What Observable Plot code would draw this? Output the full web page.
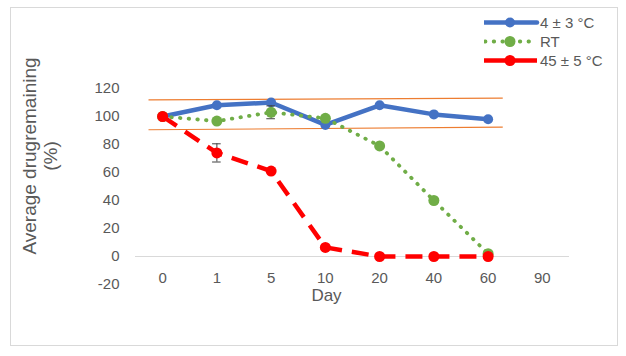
<!DOCTYPE html>
<html><head><meta charset="utf-8">
<script src="https://cdn.jsdelivr.net/npm/d3@7"></script>
<script src="https://cdn.jsdelivr.net/npm/@observablehq/plot@0.6"></script>
<style>
body{margin:0;background:#fff;font-family:"Liberation Sans",Arial,sans-serif;}
#wrap{position:relative;width:626px;height:356px;overflow:hidden;}
#border{position:absolute;left:10px;top:7px;width:608px;height:339px;border:1px solid #D9D9D9;box-sizing:border-box;}
#chart{position:absolute;left:0;top:0;}
#legend{position:absolute;left:484px;top:13px;font-size:15px;color:#595959;}
#legend .row{display:flex;align-items:center;height:19px;}
#legend svg{display:block;}
</style></head>
<body>
<div id="wrap"><div id="border"></div><div id="chart"></div><div id="legend"></div></div>
<script>
const days = ["0", "1", "5", "10", "20", "40", "60", "90"];
const seriesNames = ["4 ± 3 °C", "RT", "45 ± 5 °C"];
const coldValues = [100, 108, 110, 94, 108, 101.5, 98];
const rtValues = [100, 96.7, 103, 98.7, 79, 40, 2];
const hotValues = [100, 74, 61, 6.5, 0, 0, 0];
const errorSeries = ["45 ± 5 °C", "RT"];
const errorDayIndex = [1, 2];
const errorMeans = [74, 103];
const errorSizes = [6.5, 4.6];
const limitX1 = [-0.26, -0.26];
const limitY1 = [111.9, 90.5];
const limitX2 = [6.27, 6.27];
const limitY2 = [113.1, 92.4];
const yTicks = [-20, 0, 20, 40, 60, 80, 100, 120];

const styles = {
  "4 ± 3 °C": {color: "#4472C4", width: 4.5, dash: null, cap: "round", r: 5},
  "RT": {color: "#70AD47", width: 3.8, dash: "0.5 8.2", cap: "round", r: 5.5},
  "45 ± 5 °C": {color: "#FF0000", width: 4.5, dash: "17 10", cap: "butt", r: 5.5}
};

const toRows = (vals, name) => vals.map((v, i) => ({i, v, name}));
const cold = toRows(coldValues, seriesNames[0]);
const rt = toRows(rtValues, seriesNames[1]);
const hot = toRows(hotValues, seriesNames[2]);
const errs = errorSeries.map((s, k) => ({s, i: errorDayIndex[k], lo: errorMeans[k] - errorSizes[k], hi: errorMeans[k] + errorSizes[k]}));
const limits = limitX1.map((x, k) => ({x1: x, y1: limitY1[k], x2: limitX2[k], y2: limitY2[k]}));

function seriesMarks(rows, name) {
  const st = styles[name];
  const marks = [
    Plot.line(rows, {x: "i", y: "v", stroke: st.color, strokeWidth: st.width, strokeDasharray: st.dash, strokeLinecap: st.cap, strokeLinejoin: "round"})
  ];
  const e = errs.filter(d => d.s === name);
  if (e.length) {
    marks.push(Plot.ruleX(e, {x: "i", y1: "lo", y2: "hi", stroke: "#404040", strokeWidth: 1}));
    marks.push(Plot.ruleY(e, {y: "lo", x1: "i", x2: "i", insetLeft: -4.3, insetRight: -4.3, stroke: "#404040", strokeWidth: 1}));
    marks.push(Plot.ruleY(e, {y: "hi", x1: "i", x2: "i", insetLeft: -4.3, insetRight: -4.3, stroke: "#404040", strokeWidth: 1}));
  }
  marks.push(Plot.dot(rows, {x: "i", y: "v", r: st.r, fill: st.color, stroke: "none"}));
  return marks;
}

const chart = Plot.plot({
  width: 626, height: 356,
  marginLeft: 135, marginRight: 57, marginTop: 88, marginBottom: 72,
  style: {fontSize: "15px", fontFamily: "Liberation Sans, Arial, sans-serif", color: "#595959", background: "transparent", overflow: "visible"},
  x: {type: "linear", domain: [-0.5, 7.5], label: null},
  y: {domain: [-20, 120], label: null},
  marks: [
    Plot.ruleY([0], {stroke: "#D9D9D9", strokeWidth: 1}),
    Plot.axisY({ticks: yTicks, tickFormat: d => String(d), tickSize: 0, tickPadding: 16, label: null, fill: "#595959"}),
    Plot.axisX({ticks: d3.range(days.length), tickFormat: i => days[i], tickSize: 0, tickPadding: 0, dy: -12, label: null, fill: "#595959"}),
    Plot.text(["Day"], {frameAnchor: "bottom", lineAnchor: "top", dx: -26, dy: 4, fontSize: 17, fill: "#595959"}),
    Plot.text(["Average drugremaining\n(%)"], {frameAnchor: "left", rotate: -90, textAnchor: "middle", lineAnchor: "middle", lineHeight: 1.15, dx: -96, dy: -30.5, fontSize: 19, fill: "#595959"}),
    Plot.link(limits, {x1: "x1", y1: "y1", x2: "x2", y2: "y2", stroke: "#ED7D31", strokeWidth: 1.1}),
    ...seriesMarks(cold, seriesNames[0]),
    ...seriesMarks(rt, seriesNames[1]),
    ...seriesMarks(hot, seriesNames[2])
  ]
});
document.getElementById("chart").appendChild(chart);

const legend = document.getElementById("legend");
seriesNames.forEach(name => {
  const st = styles[name];
  const row = document.createElement("div");
  row.className = "row";
  const ns = "http://www.w3.org/2000/svg";
  const svg = document.createElementNS(ns, "svg");
  svg.setAttribute("width", 56); svg.setAttribute("height", 19);
  const ln = document.createElementNS(ns, "line");
  ln.setAttribute("x1", name === "RT" ? 1 : 0); ln.setAttribute("x2", name === "RT" ? 50 : 53);
  ln.setAttribute("y1", 9.5); ln.setAttribute("y2", 9.5);
  ln.setAttribute("stroke", st.color); ln.setAttribute("stroke-width", st.width);
  ln.setAttribute("stroke-linecap", st.cap);
  if (name === "RT") ln.setAttribute("stroke-dasharray", "0.5 8.2");
  svg.appendChild(ln);
  const c = document.createElementNS(ns, "circle");
  c.setAttribute("cx", 26); c.setAttribute("cy", 9.5); c.setAttribute("r", st.r); c.setAttribute("fill", st.color);
  svg.appendChild(c);
  row.appendChild(svg);
  const sp = document.createElement("span");
  sp.textContent = name;
  row.appendChild(sp);
  legend.appendChild(row);
});
</script>
</body></html>
